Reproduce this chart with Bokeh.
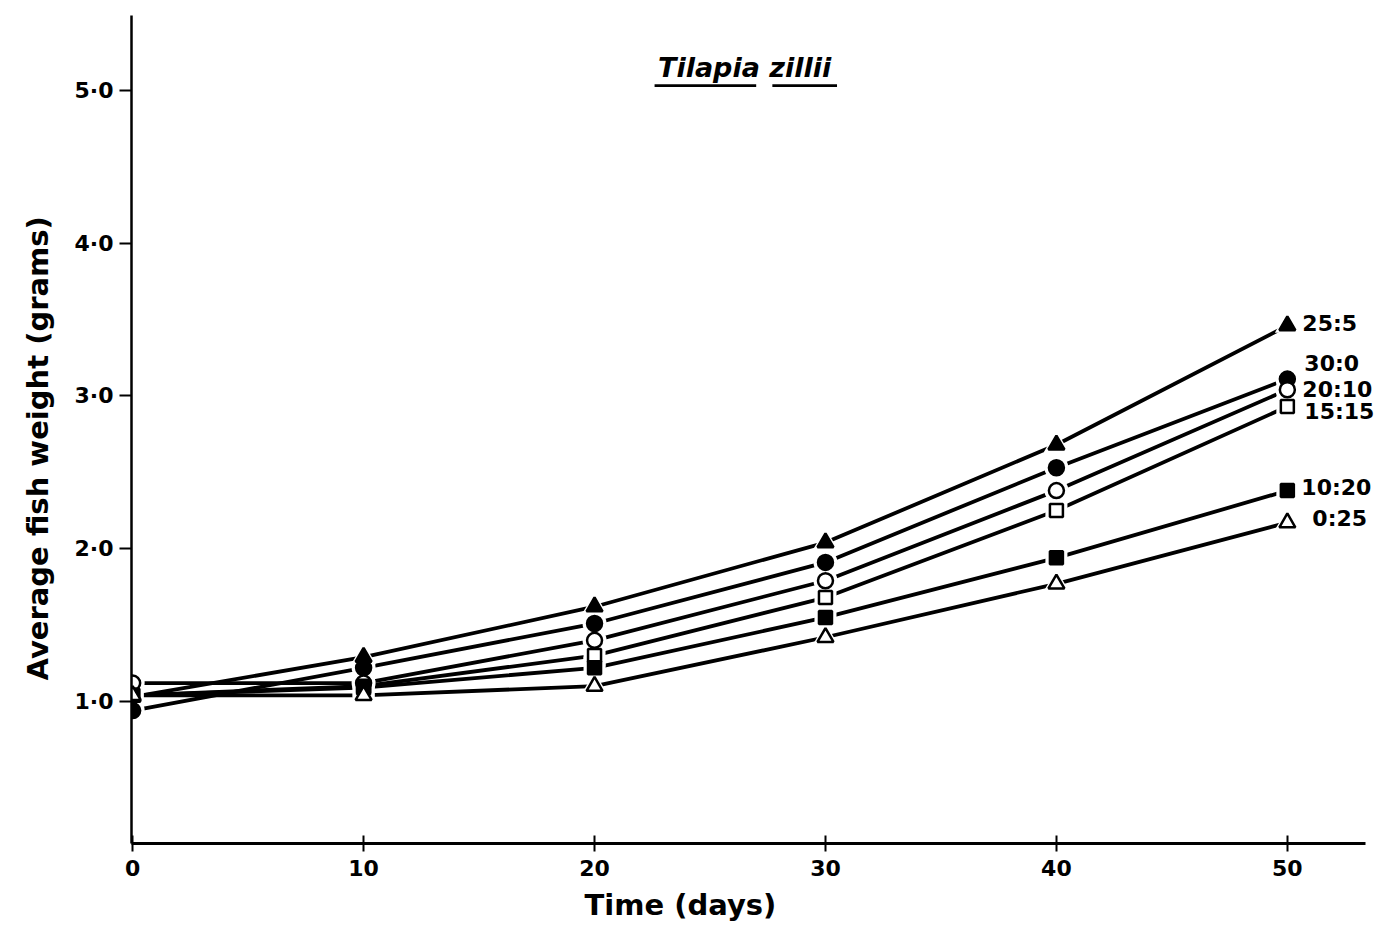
from bokeh.plotting import figure
from bokeh.models import (FixedTicker, Label, LabelSet, BoxAnnotation, Range1d,
                          ColumnDataSource, Title)
from bokeh.core.properties import value
from bokeh.embed import file_html
from bokeh.resources import INLINE

# ---- data ----
days = [0, 10, 20, 30, 40, 50]
ratio_labels = ["25:5", "30:0", "20:10", "15:15", "10:20", "0:25"]
w_25_5 = [1.03, 1.29, 1.62, 2.04, 2.68, 3.46]
w_30_0 = [0.94, 1.22, 1.51, 1.91, 2.53, 3.11]
w_20_10 = [1.12, 1.12, 1.40, 1.79, 2.38, 3.04]
w_15_15 = [1.04, 1.10, 1.30, 1.68, 2.25, 2.93]
w_10_20 = [1.04, 1.09, 1.22, 1.55, 1.94, 2.38]
w_0_25 = [1.04, 1.04, 1.10, 1.42, 1.77, 2.17]
y_ticks = [1, 2, 3, 4, 5]
y_tick_labels = ["1·0", "2·0", "3·0", "4·0", "5·0"]
x_ticks = [0, 10, 20, 30, 40, 50]

series = [w_25_5, w_30_0, w_20_10, w_15_15, w_10_20, w_0_25]
# style per series: marker, filled, size
styles = [("triangle", True, 16), ("circle", True, 15), ("circle", False, 15),
          ("square", False, 13), ("square", True, 13), ("triangle", False, 16)]
label_dx = [15, 17, 15, 17, 14, 25]
label_dy = [2, 16, 0, -5, 3, 4]   # screen px, positive = up

FONT = "DejaVu Sans"

p = figure(width=1391, height=930, output_backend="svg", toolbar_location=None,
           x_range=Range1d(-0.05, 54.25), y_range=Range1d(0.07, 5.49),
           min_border_left=131, min_border_right=6, min_border_top=15,
           min_border_bottom=87)
p.outline_line_color = None
p.xgrid.grid_line_color = None
p.ygrid.grid_line_color = None
p.background_fill_color = "white"
p.border_fill_color = "white"

# lines
for ys in series:
    p.line(days, ys, line_color="black", line_width=3.8)
# white halos to create gaps at markers
for ys, (m, filled, sz) in zip(series, styles):
    p.scatter(days, ys, marker=m, size=sz + 9, fill_color="white", line_color=None)
# markers
for ys, (m, filled, sz) in zip(series, styles):
    p.scatter(days, ys, marker=m, size=sz,
              fill_color="black" if filled else "white",
              line_color="black", line_width=2.5)

# end labels
end_src = ColumnDataSource(dict(
    x=[days[-1]] * len(series),
    y=[s[-1] for s in series],
    t=ratio_labels,
    dx=label_dx,
    dy=label_dy,
))
p.add_layout(LabelSet(x="x", y="y", text="t", x_offset="dx", y_offset="dy",
                      source=end_src, text_font=value(FONT),
                      text_font_style="bold", text_font_size="22px",
                      text_align="left", text_baseline="middle",
                      text_color="black"))

# title
title = Label(x=26.5, y=5.15, text="Tilapia zillii", text_font=FONT,
              text_font_style="bold italic", text_font_size="27px",
              text_align="center", text_baseline="middle", text_color="black")
p.add_layout(title)
p.add_layout(BoxAnnotation(left=22.6, right=27.0, bottom=5.022, top=5.040,
                           fill_color="black", fill_alpha=1, line_color=None))
p.add_layout(BoxAnnotation(left=27.7, right=30.5, bottom=5.022, top=5.040,
                           fill_color="black", fill_alpha=1, line_color=None))

# axes
xa = p.xaxis[0]
xa.ticker = FixedTicker(ticks=x_ticks)
xa.bounds = (-0.05, 53.4)
xa.minor_tick_line_color = None
xa.major_tick_in = 8
xa.major_tick_out = 8
xa.major_tick_line_width = 2
xa.axis_line_width = 3
xa.major_label_text_font = FONT
xa.major_label_text_font_style = "bold"
xa.major_label_text_font_size = "22px"
xa.major_label_text_color = "black"
xa.major_label_standoff = 8

ya = p.yaxis[0]
ya.ticker = FixedTicker(ticks=y_ticks)
ya.major_label_overrides = dict(zip(y_ticks, y_tick_labels))
ya.minor_tick_line_color = None
ya.major_tick_in = 0
ya.major_tick_out = 12
ya.major_tick_line_width = 2
ya.axis_line_width = 2.5
ya.major_label_text_font = FONT
ya.major_label_text_font_style = "bold"
ya.major_label_text_font_size = "22px"
ya.major_label_text_color = "black"
ya.major_label_standoff = 6

# axis titles (placed as side titles so they can sit off-centre like the original)
p.add_layout(Title(text="Time (days)", align="left", offset=453, standoff=14,
                   text_font=FONT, text_font_style="bold", text_font_size="29px",
                   text_color="black"), "below")
p.add_layout(Title(text="Average fish weight (grams)", align="left", offset=163,
                   standoff=34, text_font=FONT, text_font_style="bold",
                   text_font_size="29px", text_color="black"), "left")

open("out.html", "w").write(file_html(p, INLINE))
